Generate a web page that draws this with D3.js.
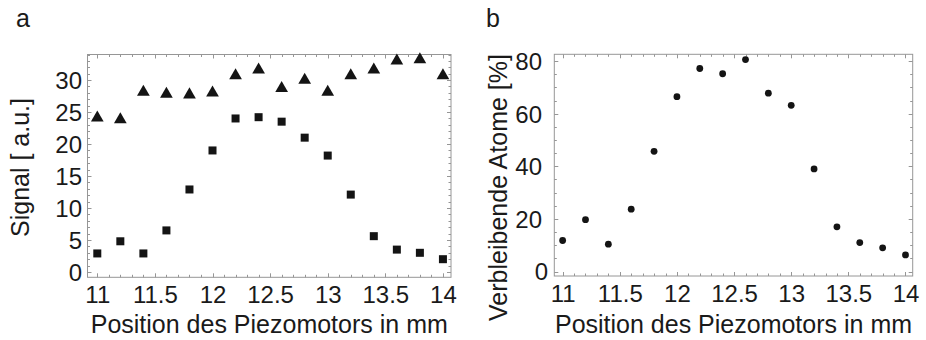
<!DOCTYPE html>
<html>
<head>
<meta charset="utf-8">
<script src="https://cdn.jsdelivr.net/npm/d3@7"></script>
<style>
  html, body { margin: 0; padding: 0; background: #fff; }
  svg { display: block; }
  text { font-family: "Liberation Sans", Arial, Helvetica, sans-serif; fill: #1a1a1a; }
</style>
</head>
<body>
<svg id="chart" width="926" height="340"></svg>
<script>
// ---- data ----
const positions = [11.0, 11.2, 11.4, 11.6, 11.8, 12.0, 12.2, 12.4, 12.6, 12.8, 13.0, 13.2, 13.4, 13.6, 13.8, 14.0];
const signalTriangles = [24.4, 24.1, 28.4, 28.1, 28.0, 28.3, 31.0, 31.9, 29.0, 30.3, 28.4, 31.0, 31.9, 33.3, 33.5, 31.0];
const signalSquares = [2.9, 4.8, 2.9, 6.5, 12.9, 19.0, 24.0, 24.2, 23.5, 21.0, 18.2, 12.1, 5.6, 3.5, 3.0, 2.0];
const remainingAtoms = [11.8, 19.7, 10.4, 23.7, 45.7, 66.5, 77.2, 75.2, 80.6, 67.8, 63.2, 39.0, 17.0, 11.0, 9.0, 6.3];
const xTicks = [11, 11.5, 12, 12.5, 13, 13.5, 14];
const xTickLabels = ["11", "11.5", "12", "12.5", "13", "13.5", "14"];
const yTicksA = [0, 5, 10, 15, 20, 25, 30];
const yTicksB = [0, 20, 40, 60, 80];
const xTitle = "Position des Piezomotors in mm";
const yTitleA = "Signal [ a.u.]";
const yTitleB = "Verbleibende Atome [%]";

const svg = d3.select("#chart");
const frameColor = "#969696";
const markColor = "#141414";

function d3range(a, b, step) {
  const out = [];
  const n = Math.round((b - a) / step);
  for (let i = 0; i <= n; i++) out.push(+(a + i * step).toFixed(6));
  return out;
}

function panel(opts) {
  const g = svg.append("g");
  const x = d3.scaleLinear().domain(opts.xDomain).range([opts.left, opts.right]);
  const y = d3.scaleLinear().domain(opts.yDomain).range([opts.bottom, opts.top]);

  // frame
  g.append("rect")
    .attr("x", opts.left).attr("y", opts.top)
    .attr("width", opts.right - opts.left).attr("height", opts.bottom - opts.top)
    .attr("fill", "none").attr("stroke", frameColor).attr("stroke-width", 1);

  // ticks (inward on all four sides)
  const xMinor = d3range(11, 14, 0.1).filter(v => v >= opts.xDomain[0] && v <= opts.xDomain[1]);
  const yMinor = d3range(opts.yMinorStart, opts.yMinorEnd, opts.yMinorStep).filter(v => v >= opts.yDomain[0] && v <= opts.yDomain[1]);
  const isMajorX = v => xTicks.some(t => Math.abs(t - v) < 1e-6);
  const isMajorY = v => opts.yTicks.some(t => Math.abs(t - v) < 1e-6);
  const tg = g.append("g").attr("stroke", frameColor).attr("stroke-width", 1);
  xMinor.forEach(v => {
    const len = isMajorX(v) ? 4 : 2.5;
    const px = Math.round(x(v)) + 0.5;
    tg.append("line").attr("x1", px).attr("x2", px).attr("y1", opts.bottom).attr("y2", opts.bottom - len);
    tg.append("line").attr("x1", px).attr("x2", px).attr("y1", opts.top).attr("y2", opts.top + len);
  });
  yMinor.forEach(v => {
    const len = isMajorY(v) ? 4 : 2.5;
    const py = Math.round(y(v)) + 0.5;
    tg.append("line").attr("y1", py).attr("y2", py).attr("x1", opts.left).attr("x2", opts.left + len);
    tg.append("line").attr("y1", py).attr("y2", py).attr("x1", opts.right).attr("x2", opts.right - len);
  });

  // x tick labels via axis
  const xAxis = d3.axisBottom(x).tickValues(xTicks).tickFormat((d, i) => xTickLabels[i]).tickSize(0).tickPadding(0);
  const xa = g.append("g").attr("transform", `translate(0,${opts.bottom})`).call(xAxis);
  xa.select(".domain").remove();
  xa.selectAll("text").attr("y", 0).attr("dy", 0).attr("transform", "translate(0,26)")
    .style("font-size", "24px").attr("fill", "#1a1a1a")
    .style("font-family", '"Liberation Sans", Arial, sans-serif');

  // y tick labels via axis
  const yAxis = d3.axisLeft(y).tickValues(opts.yTicks).tickFormat(d3.format("d")).tickSize(0).tickPadding(0);
  const ya = g.append("g").attr("transform", `translate(${opts.yLabelRight},0)`).call(yAxis);
  ya.select(".domain").remove();
  ya.selectAll("text").attr("x", d => (d === 0 ? opts.zeroShift : 0)).attr("dy", "0.35em")
    .style("font-size", "24px").attr("fill", "#1a1a1a")
    .style("font-family", '"Liberation Sans", Arial, sans-serif');

  // titles
  g.append("text").attr("x", (opts.left + opts.right) / 2 + opts.xTitleShift).attr("y", 333)
    .attr("text-anchor", "middle").style("font-size", "25px").text(xTitle);
  g.append("text")
    .attr("transform", `translate(${opts.yTitleX},${opts.yTitleY}) rotate(-90)`)
    .attr("text-anchor", "middle").style("font-size", "25px").text(opts.yTitle);

  // panel letter
  g.append("text").attr("x", opts.letterX).attr("y", 27).style("font-size", "25px").text(opts.letter);

  return { g, x, y };
}

// Panel a
const A = panel({
  left: 87.5, right: 451, top: 54.5, bottom: 277.3,
  xDomain: [10.915, 14.07], yDomain: [-0.83, 34.0],
  yTicks: yTicksA, yMinorStart: 0, yMinorEnd: 34, yMinorStep: 1,
  yLabelRight: 82, zeroShift: 0,
  yTitle: yTitleA, yTitleX: 29, yTitleY: 167.5, xTitleShift: 0,
  letter: "a", letterX: 16
});
// triangle symbol is centroid-centred; shift so its bounding box centre sits on the value
const triSize = 70;
const triSide = Math.sqrt(4 * triSize / Math.sqrt(3));
const triShift = (triSide * Math.sqrt(3) / 2) / 6;
A.g.append("g").selectAll("path.tri").data(positions).join("path")
  .attr("d", d3.symbol().type(d3.symbolTriangle).size(triSize))
  .attr("transform", (d, i) => `translate(${A.x(d)},${A.y(signalTriangles[i]) + triShift})`)
  .attr("fill", markColor);
A.g.append("g").selectAll("rect.sq").data(positions).join("rect")
  .attr("x", d => A.x(d) - 4).attr("width", 8).attr("height", 8)
  .attr("y", (d, i) => A.y(signalSquares[i]) - 4)
  .attr("fill", markColor);

// Panel b
const B = panel({
  left: 554.3, right: 912.7, top: 54.3, bottom: 276,
  xDomain: [10.927, 14.063], yDomain: [-1.7, 82.6],
  yTicks: yTicksB, yMinorStart: 0, yMinorEnd: 80, yMinorStep: 5,
  yLabelRight: 542, zeroShift: 6,
  yTitle: yTitleB, yTitleX: 507, yTitleY: 187.5, xTitleShift: 0,
  letter: "b", letterX: 486
});
B.g.append("g").selectAll("circle").data(positions).join("circle")
  .attr("cx", d => B.x(d)).attr("cy", (d, i) => B.y(remainingAtoms[i]))
  .attr("r", 3.4).attr("fill", markColor);
</script>
</body>
</html>
